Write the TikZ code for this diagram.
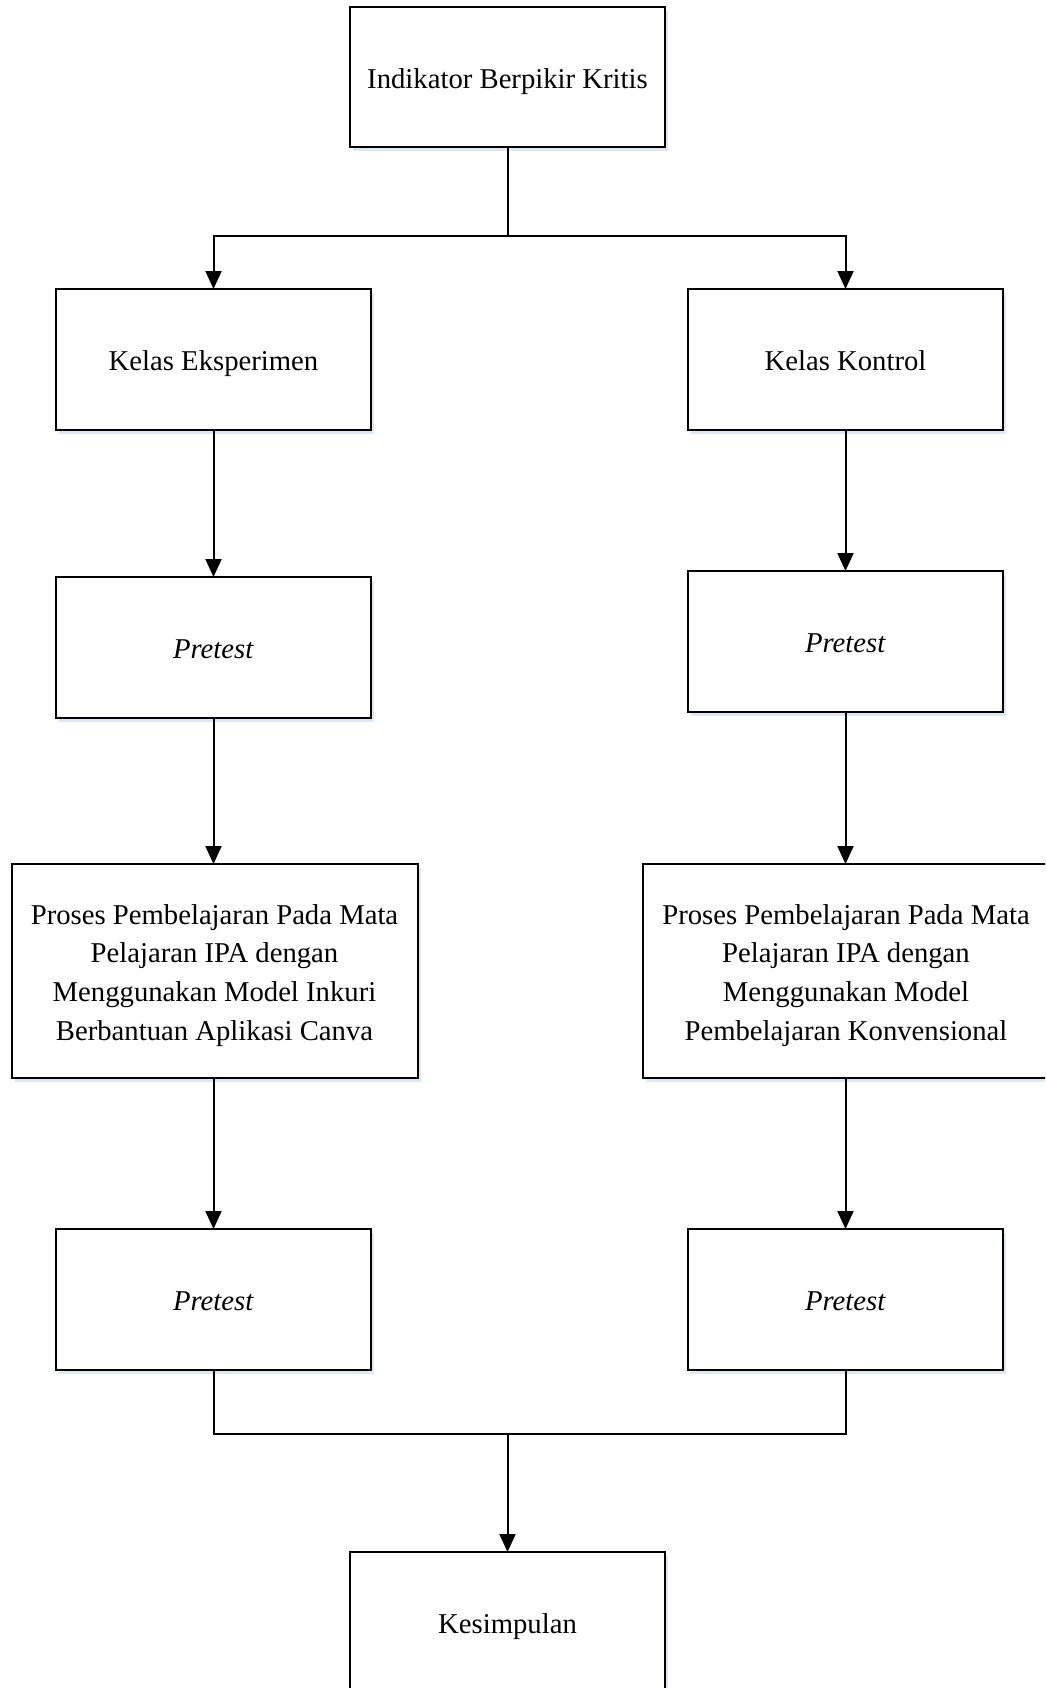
\documentclass[tikz,border=0pt]{standalone}
\usepackage{fontspec}
\setmainfont{Liberation Serif}
\usetikzlibrary{arrows.meta,shadows}
\definecolor{shadowblue}{RGB}{222,231,242}
\begin{document}
\begin{tikzpicture}[x=0.5pt,y=-0.5pt,
  box/.style={draw, line width=1pt, fill=white, inner sep=0pt, outer sep=0pt,
    align=center, font=\fontsize{14.35}{19.4}\selectfont,
    drop shadow={shadow xshift=1.5pt, shadow yshift=-2pt, fill=shadowblue, opacity=1, draw=none}},
  smallbox/.style={box, minimum width=157.5pt, minimum height=70.5pt, text height=14pt, text depth=3pt},
  bigbox/.style={box, minimum width=203pt, minimum height=107pt, text height=71.5pt, text depth=2pt},
  conn/.style={line width=1pt},
  arr/.style={conn, -{Triangle[length=9pt,width=8pt]}}]
\useasboundingbox (0,0) rectangle (1045,1688);
\clip (0,0) rectangle (1045,1688);
\fill[white] (0,0) rectangle (1045,1688);

\node[smallbox, minimum height=70pt] (top) at (507.5,77) {Indikator Berpikir Kritis};
\node[smallbox] (kE) at (213.5,359.5) {Kelas Eksperimen};
\node[smallbox] (kK) at (845.5,359.5) {Kelas Kontrol};
\node[smallbox] (p1L) at (213.5,647.5) {\textit{Pretest}};
\node[smallbox] (p1R) at (845.5,641.5) {\textit{Pretest}};
\node[bigbox] (prL) at (214.5,971) {Proses Pembelajaran Pada Mata\\Pelajaran IPA dengan\\Menggunakan Model Inkuri\\Berbantuan Aplikasi Canva};
\node[bigbox] (prR) at (846,971) {Proses Pembelajaran Pada Mata\\Pelajaran IPA dengan\\Menggunakan Model\\Pembelajaran Konvensional};
\node[smallbox] (p2L) at (213.5,1299.5) {\textit{Pretest}};
\node[smallbox] (p2R) at (845.5,1299.5) {\textit{Pretest}};
\node[smallbox] (kes) at (507.5,1622.5) {Kesimpulan};

\coordinate (sp) at (507.5,236);
\coordinate (mg) at (507.5,1434);

\draw[conn] (top.south) -- (sp);
\draw[arr] (sp) -| (kE.north);
\draw[arr] (sp) -| (kK.north);
\draw[arr] (kE.south) -- (p1L.north);
\draw[arr] (kK.south) -- (p1R.north);
\draw[arr] (p1L.south) -- (prL.north -| p1L.south);
\draw[arr] (p1R.south) -- (prR.north -| p1R.south);
\draw[arr] (prL.south -| p2L.north) -- (p2L.north);
\draw[arr] (prR.south -| p2R.north) -- (p2R.north);
\draw[conn] (p2L.south) |- (mg);
\draw[conn] (p2R.south) |- (mg);
\draw[arr] (mg) -- (kes.north);
\end{tikzpicture}
\end{document}
